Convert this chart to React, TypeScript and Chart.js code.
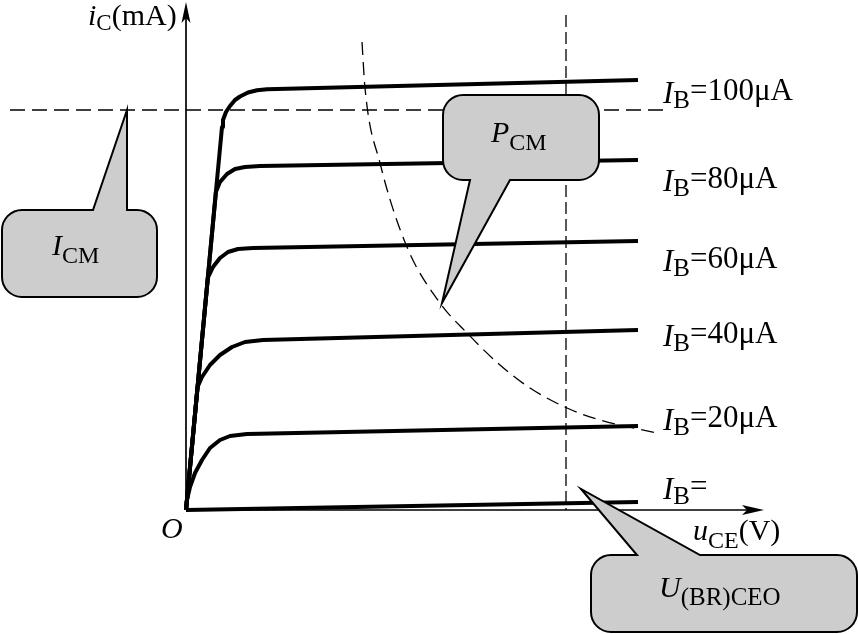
import React, { useEffect, useRef } from "react";
import { Chart, registerables } from "chart.js";

Chart.register(...registerables);

// Output characteristics: u_CE (V) on x, i_C (mA) on y, one curve per base current
const uce100 = [0, 1.8, 1.85, 2.0, 2.2, 2.45, 2.7, 3.1, 3.55, 4.05, 22.6];
const ic100 = [0, 9.575, 9.75, 9.95, 10.1, 10.25, 10.3375, 10.4375, 10.4925, 10.5175, 10.75];
const uce80 = [0, 1.495, 1.7, 2.05, 2.45, 2.95, 3.7, 22.6];
const ic80 = [0, 7.95, 8.2, 8.4, 8.525, 8.575, 8.6, 8.75];
const uce60 = [0, 1.09, 1.35, 1.7, 2.1, 2.6, 3.35, 22.6];
const ic60 = [0, 5.8, 6.075, 6.3, 6.45, 6.525, 6.55, 6.725];
const uce40 = [0, 0.578, 0.8, 1.2, 1.7, 2.3, 2.95, 3.85, 22.6];
const ic40 = [0, 3.075, 3.325, 3.625, 3.875, 4.075, 4.2, 4.25, 4.5];
const uce20 = [0, 0.05, 0.2, 0.45, 0.8, 1.2, 1.7, 2.2, 3.05, 22.6];
const ic20 = [0, 0.25, 0.575, 0.925, 1.25, 1.55, 1.75, 1.85, 1.9, 2.1];
const uce0 = [0, 22.6];
const ic0 = [0, 0.2];

// P_CM power limit curve (dashed hyperbola)
const pcmU = [8.8, 8.95, 9.7, 11.05, 12.7, 14.05, 15.7, 17.2, 19.05, 20.7, 23.55];
const pcmI = [11.7, 10.55, 8.675, 6.575, 5.175, 4.425, 3.625, 3.05, 2.55, 2.25, 1.925];

// limits
const ICM = 10.0;
const UBRCEO = 19.0;

// curve labels (I_B values)
const ibValues = ["100μA", "80μA", "60μA", "40μA", "20μA", ""];

// layout (data units)
const X_MIN = -9.3, X_MAX = 33.6, Y_MIN = -3.1, Y_MAX = 12.75;
const labelX = 23.85;
const labelY = [10.25, 8.05, 6.05, 4.175, 2.075, 0.35];

const SERIF = '"Liberation Serif", "Times New Roman", serif';
const FILL = "#cdcdcd";
const MAIN = 30;
const SUB = 24;

type Run = { t: string; size: number; italic?: boolean; dy?: number };

function drawRuns(ctx: CanvasRenderingContext2D, x: number, y: number, runs: Run[]) {
  let cx = x;
  ctx.fillStyle = "#000";
  ctx.textBaseline = "alphabetic";
  ctx.textAlign = "left";
  for (const r of runs) {
    ctx.font = `${r.italic ? "italic " : ""}${r.size}px ${SERIF}`;
    ctx.fillText(r.t, cx, y + (r.dy || 0));
    cx += ctx.measureText(r.t).width;
  }
}

type Callout = {
  x1: number; x2: number; yTop: number; yBot: number;
  edge: "top" | "bottom"; b1: number; b2: number; tipX: number; tipY: number;
  textX: number; textY: number; runs: Run[];
};

const callouts: Callout[] = [
  {
    x1: -9.2, x2: -1.45, yTop: 7.5, yBot: 5.325, edge: "top", b1: -4.65, b2: -2.95,
    tipX: -2.95, tipY: ICM, textX: -6.7, textY: 6.375,
    runs: [{ t: "I", size: MAIN, italic: true }, { t: "CM", size: SUB, dy: 8 }],
  },
  {
    x1: 12.85, x2: 20.65, yTop: 10.375, yBot: 8.25, edge: "bottom", b1: 14.2, b2: 16.2,
    tipX: 12.8, tipY: 5.175, textX: 15.25, textY: 9.2,
    runs: [{ t: "P", size: MAIN, italic: true }, { t: "CM", size: SUB, dy: 8 }],
  },
  {
    x1: 20.25, x2: 33.55, yTop: -1.125, yBot: -3.05, edge: "top", b1: 22.55, b2: 25.7,
    tipX: 19.75, tipY: 0.525, textX: 23.65, textY: -2.175,
    runs: [{ t: "U", size: MAIN, italic: true }, { t: "(BR)CEO", size: SUB + 1, dy: 8 }],
  },
];

const diagramPlugin = {
  id: "diagram",
  beforeDatasetsDraw(chart: any) {
    const ctx: CanvasRenderingContext2D = chart.ctx;
    const sx = chart.scales.x, sy = chart.scales.y;
    const px = (v: number) => sx.getPixelForValue(v);
    const py = (v: number) => sy.getPixelForValue(v);
    const ox = px(0), oy = py(0);
    ctx.save();
    ctx.strokeStyle = "#000";
    ctx.fillStyle = "#000";
    ctx.lineWidth = 1.7;
    // y axis
    const yTop = py(12.7);
    ctx.beginPath();
    ctx.moveTo(ox, oy);
    ctx.lineTo(ox, yTop + 10);
    ctx.stroke();
    ctx.beginPath();
    ctx.moveTo(ox, yTop);
    ctx.lineTo(ox - 4.5, yTop + 21);
    ctx.lineTo(ox, yTop + 16);
    ctx.lineTo(ox + 4.5, yTop + 21);
    ctx.closePath();
    ctx.fill();
    // x axis
    const xEnd = px(28.9);
    ctx.beginPath();
    ctx.moveTo(ox, oy);
    ctx.lineTo(xEnd - 10, oy);
    ctx.stroke();
    ctx.beginPath();
    ctx.moveTo(xEnd, oy);
    ctx.lineTo(xEnd - 22, oy - 5);
    ctx.lineTo(xEnd - 17, oy);
    ctx.lineTo(xEnd - 22, oy + 5);
    ctx.closePath();
    ctx.fill();
    // axis titles
    drawRuns(ctx, px(-4.9), py(12.125), [
      { t: "i", size: MAIN, italic: true },
      { t: "C", size: 23, dy: 5 },
      { t: "(mA)", size: MAIN },
    ]);
    drawRuns(ctx, px(25.35), py(-0.75), [
      { t: "u", size: MAIN, italic: true },
      { t: "CE", size: SUB, dy: 8 },
      { t: "(V)", size: MAIN },
    ]);
    drawRuns(ctx, px(-1.25), py(-0.7), [{ t: "O", size: MAIN, italic: true }]);
    ctx.restore();
  },
  afterDatasetsDraw(chart: any) {
    const ctx: CanvasRenderingContext2D = chart.ctx;
    const sx = chart.scales.x, sy = chart.scales.y;
    const px = (v: number) => sx.getPixelForValue(v);
    const py = (v: number) => sy.getPixelForValue(v);
    ctx.save();
    // curve labels
    ibValues.forEach((v, i) => {
      drawRuns(ctx, px(labelX), py(labelY[i]), [
        { t: "I", size: 31, italic: true, dy: 3 },
        { t: "B", size: 25, dy: 8 },
        { t: "=" + v, size: 31 },
      ]);
    });
    // callouts
    for (const c of callouts) {
      const L = px(c.x1), R = px(c.x2), T = py(c.yTop), B = py(c.yBot);
      const r = 20;
      const b1 = px(c.b1), b2 = px(c.b2), tx = px(c.tipX), ty = py(c.tipY);
      ctx.beginPath();
      ctx.moveTo(L + r, T);
      if (c.edge === "top") {
        ctx.lineTo(b1, T);
        ctx.lineTo(tx, ty);
        ctx.lineTo(b2, T);
      }
      ctx.lineTo(R - r, T);
      ctx.arcTo(R, T, R, T + r, r);
      ctx.lineTo(R, B - r);
      ctx.arcTo(R, B, R - r, B, r);
      if (c.edge === "bottom") {
        ctx.lineTo(b2, B);
        ctx.lineTo(tx, ty);
        ctx.lineTo(b1, B);
      }
      ctx.lineTo(L + r, B);
      ctx.arcTo(L, B, L, B - r, r);
      ctx.lineTo(L, T + r);
      ctx.arcTo(L, T, L + r, T, r);
      ctx.closePath();
      ctx.fillStyle = FILL;
      ctx.fill();
      ctx.lineWidth = 2;
      ctx.strokeStyle = "#000";
      ctx.lineJoin = "miter";
      ctx.stroke();
      drawRuns(ctx, px(c.textX), py(c.textY), c.runs);
    }
    ctx.restore();
  },
};

function pts(xs: number[], ys: number[]) {
  return xs.map((x, i) => ({ x, y: ys[i] }));
}

export default function App() {
  const ref = useRef<HTMLCanvasElement | null>(null);
  useEffect(() => {
    if (!ref.current) return;
    const curve = (xs: number[], ys: number[]) => ({
      data: pts(xs, ys),
      showLine: true,
      borderColor: "#000",
      borderWidth: 4,
      pointRadius: 0,
      tension: 0,
      borderCapStyle: "butt" as const,
      borderJoinStyle: "round" as const,
      clip: false as any,
    });
    const dashed = (data: { x: number; y: number }[], dash: number[], mono = false) => ({
      data,
      showLine: true,
      borderColor: "#000",
      borderWidth: 1.3,
      borderDash: dash,
      pointRadius: 0,
      cubicInterpolationMode: mono ? ("monotone" as const) : ("default" as const),
      clip: false as any,
    });
    const chart = new Chart(ref.current, {
      type: "scatter",
      data: {
        datasets: [
          dashed([{ x: -8.8, y: ICM }, { x: 24.2, y: ICM }], [15, 7]),
          dashed([{ x: UBRCEO, y: 12.375 }, { x: UBRCEO, y: 0 }], [12, 5]),
          dashed(pts(pcmU, pcmI), [13, 7], true),
          curve(uce0, ic0),
          curve(uce20, ic20),
          curve(uce40, ic40),
          curve(uce60, ic60),
          curve(uce80, ic80),
          curve(uce100, ic100),
        ] as any,
      },
      options: {
        animation: false,
        responsive: false,
        maintainAspectRatio: false,
        layout: { padding: 0 },
        plugins: { legend: { display: false }, tooltip: { enabled: false } },
        scales: {
          x: { type: "linear", min: X_MIN, max: X_MAX, display: false },
          y: { type: "linear", min: Y_MIN, max: Y_MAX, display: false },
        },
      },
      plugins: [diagramPlugin],
    });
    return () => chart.destroy();
  }, []);
  return (
    <div style={{ position: "absolute", left: 0, top: 0, width: 858, height: 634, background: "#fff" }}>
      <canvas ref={ref} width={858} height={634} style={{ display: "block" }} />
    </div>
  );
}
